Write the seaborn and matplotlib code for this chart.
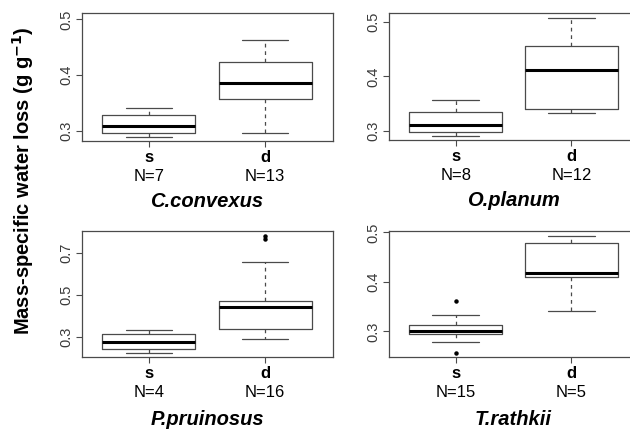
import matplotlib
matplotlib.use("Agg")
import matplotlib.pyplot as plt
import seaborn as sns

sns.set_style("ticks")
plt.rcParams["font.family"] = ["Liberation Sans", "DejaVu Sans"]
plt.rcParams["text.color"] = "black"

species = ["C.convexus", "O.planum", "P.pruinosus", "T.rathkii"]
groups = ["s", "d"]
n_obs = [[7, 13], [8, 12], [4, 16], [15, 5]]

# box stats: [lower whisker, q1, median, q3, upper whisker]
c_convexus = [[0.288, 0.2964, 0.3078, 0.3275, 0.3407],
              [0.2952, 0.3563, 0.3856, 0.4228, 0.4623]]
o_planum = [[0.2914, 0.2982, 0.3110, 0.3355, 0.3563],
            [0.3324, 0.3404, 0.4122, 0.4553, 0.5073]]
p_pruinosus = [[0.2257, 0.2447, 0.2779, 0.3126, 0.3332],
               [0.2889, 0.3396, 0.4415, 0.4715, 0.6590]]
t_rathkii = [[0.2785, 0.2946, 0.3007, 0.3121, 0.3336],
             [0.3403, 0.4094, 0.4174, 0.4792, 0.4933]]
box_stats = [c_convexus, o_planum, p_pruinosus, t_rathkii]

# points beyond the whiskers
outliers = [[[], []], [[], []], [[], [0.766, 0.782]], [[0.257, 0.3604], []]]

ylims = [(0.281, 0.512), (0.2828, 0.5159), (0.2035, 0.806), (0.2475, 0.5028)]
yticks = [[0.3, 0.4, 0.5], [0.3, 0.4, 0.5], [0.3, 0.5, 0.7], [0.3, 0.4, 0.5]]

fig = plt.figure(figsize=(6.3, 4.33), dpi=100)

# panel rectangles (left, bottom, width, height) in figure fraction
rects = [[0.1294, 0.6737, 0.3984, 0.2970],
         [0.6167, 0.6760, 0.3968, 0.2933],
         [0.1294, 0.1748, 0.3984, 0.2924],
         [0.6167, 0.1748, 0.3968, 0.2917]]

edge = "#4a4a4a"

for i, sp in enumerate(species):
    ax = fig.add_axes(rects[i])

    stats = []
    for j, g in enumerate(groups):
        lo, q1, med, q3, hi = box_stats[i][j]
        stats.append(dict(whislo=lo, q1=q1, med=med, q3=q3, whishi=hi,
                          fliers=outliers[i][j], label=g))

    ax.bxp(stats, positions=[1, 2], widths=0.8, capwidths=0.4,
           showfliers=True, patch_artist=False,
           boxprops=dict(color=edge, linewidth=0.9),
           medianprops=dict(color="black", linewidth=2.2, solid_capstyle="butt"),
           whiskerprops=dict(color=edge, linewidth=0.9, linestyle=(0, (3, 3))),
           capprops=dict(color=edge, linewidth=0.9),
           flierprops=dict(marker="o", markersize=2.2, markerfacecolor="black",
                           markeredgecolor="black", linestyle="none"))

    ax.set_xlim(0.42, 2.58)
    ax.set_ylim(*ylims[i])
    ax.set_yticks(yticks[i])
    ax.set_yticklabels([str(t) for t in yticks[i]], rotation=90,
                       va="center", fontsize=10.5, color="#3a3a3a")
    ax.set_xticks([1, 2])
    ax.set_xticklabels([])
    ax.tick_params(axis="both", direction="out", length=4, width=0.8,
                   color=edge, pad=2)
    for s in ax.spines.values():
        s.set_visible(True)
        s.set_color(edge)
        s.set_linewidth(0.9)

    for j, g in enumerate(groups):
        ax.annotate(g, xy=(j + 1, 0), xycoords=("data", "axes fraction"),
                    xytext=(0, -12), textcoords="offset points",
                    ha="center", va="center", fontsize=12, fontweight="bold")
        ax.annotate(f"N={n_obs[i][j]}", xy=(j + 1, 0),
                    xycoords=("data", "axes fraction"),
                    xytext=(0, -25), textcoords="offset points",
                    ha="center", va="center", fontsize=12)
    off = -43 if i < 2 else -45
    ax.annotate(sp, xy=(0.5, 0), xycoords="axes fraction",
                xytext=(0, off), textcoords="offset points",
                ha="center", va="center", fontsize=14.5,
                fontweight="bold", fontstyle="italic")

fig.text(0.037, 0.582, r"Mass-specific water loss (g g$^{\mathbf{-1}}$)",
         rotation=90, ha="center", va="center", fontsize=14.5, fontweight="bold")

fig.savefig("out.png", dpi=100)
